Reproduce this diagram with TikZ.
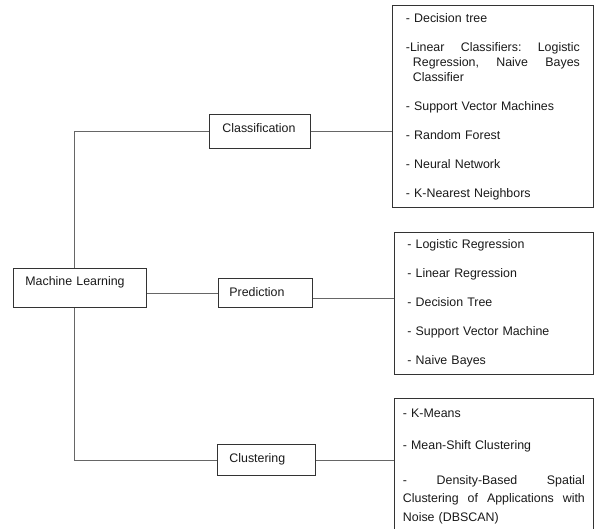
\documentclass[tikz,border=0pt]{standalone}
\usepackage{fontspec}
\setmainfont{Liberation Sans}
\usepackage{tikz}
\usepackage{xcolor}
\newcommand{\mlfont}{\fontsize{12.4}{15}\selectfont}
\newcommand{\mlwide}{\fontsize{12.4}{18.5}\selectfont}
\newcommand{\spreadline}[2]{\leavevmode\hbox to #1{#2}}

\begin{document}
\begin{tikzpicture}[x=1pt,y=-1pt,
  catbox/.style={draw=black!80,line width=0.8pt,anchor=north west,inner ysep=0pt,align=left,font=\mlfont,text=black!90},
  listbox/.style={draw=black!80,line width=0.8pt,anchor=north west,inner ysep=0pt,align=left,font=\mlfont,text=black!90},
  link/.style={draw=black!60,line width=0.8pt}]
\useasboundingbox (0,0) rectangle (594,529);
\clip (0,0) rectangle (594,529);
\node[catbox,inner xsep=12pt,text width=109pt,text height=17.5pt,text depth=21.5pt] (ml) at (13,268) {Machine Learning};
\node[catbox,inner xsep=13pt,text width=75pt,text height=18pt,text depth=16pt] (cls) at (209,114) {Classification};
\node[catbox,inner xsep=11pt,text width=72pt,text height=17.7pt,text depth=11.3pt] (pred) at (218,278) {Prediction};
\node[catbox,inner xsep=12pt,text width=74pt,text height=17.7pt,text depth=13.3pt] (clu) at (217,444) {Clustering};
\node[listbox,inner xsep=13.5pt,text width=174pt,minimum height=202pt] (clslist) at (392,5) {- Decision tree\\[14pt]
\spreadline{174pt}{-Linear\hfill Classifiers:\hfill Logistic}\\
\hspace*{7pt}\hbox to 167pt{Regression,\hfill Naive\hfill Bayes}\\
\hspace*{7pt}Classifier\\[14pt]
- Support Vector Machines\\[14pt]
- Random Forest\\[14pt]
- Neural Network\\[14pt]
- K-Nearest Neighbors};
\node[listbox,inner xsep=13pt,text width=173pt,minimum height=142pt] (predlist) at (394,232) {- Logistic Regression\\[14pt]
- Linear Regression\\[14pt]
- Decision Tree\\[14pt]
- Support Vector Machine\\[14pt]
- Naive Bayes};
\node[listbox,font=\mlwide,inner xsep=8.5pt,inner ysep=11pt,text width=182pt,text depth=150pt] (clulist) at (394,398) {- K-Means\\[13.5pt]
- Mean-Shift Clustering\\[16pt]
\spreadline{182pt}{-\hfill Density-Based\hfill Spatial}\\
\spreadline{182pt}{Clustering\hfill of\hfill Applications\hfill with}\\
Noise (DBSCAN)};
\draw[link] ([xshift=-6pt]ml.north) |- (cls.west);
\draw[link] (pred.west -| ml.east) -- (pred.west);
\draw[link] ([xshift=-6pt]ml.south) |- (clu.west);
\draw[link] (cls.east) -- (cls.east -| clslist.west);
\draw[link] ([yshift=-5pt]pred.east) -- ([yshift=-5pt]pred.east -| predlist.west);
\draw[link] (clu.east) -- (clu.east -| clulist.west);
\end{tikzpicture}
\end{document}
